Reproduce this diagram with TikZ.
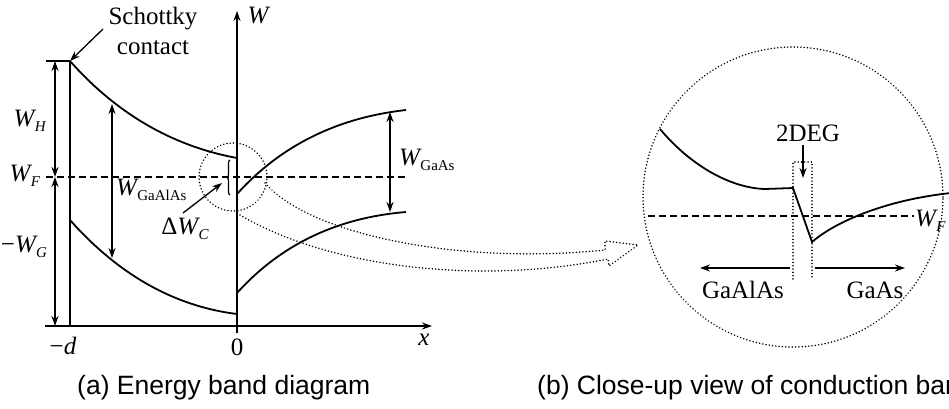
\documentclass[tikz,border=0pt]{standalone}
\usepackage{fontspec}
\setmainfont{Liberation Serif}
\newfontfamily\capfont{Liberation Sans}
\usetikzlibrary{arrows.meta,decorations.pathreplacing}
\newcommand{\Wsub}[1]{\textit{W}\kern-1.5pt\raisebox{-5pt}{\fontsize{15}{15}\selectfont #1}}
\begin{document}
\begin{tikzpicture}[x=1pt,y=-1pt,
  band/.style={line width=1.8pt},
  axis/.style={line width=1.7pt},
  tip/.style={-{Stealth[length=10pt,width=7pt]}},
  arr/.style={line width=1.5pt,-{Stealth[length=10pt,width=7pt]}},
  darr/.style={line width=1.5pt,{Stealth[length=10pt,width=7pt]}-{Stealth[length=10pt,width=7pt]}},
  fermi/.style={line width=1.5pt,dash pattern=on 7pt off 4pt},
  dots/.style={line width=1.6pt,line cap=round,dash pattern=on 0.1pt off 3.2pt},
  lbl/.style={font=\fontsize{25}{25}\selectfont,inner sep=0pt},
  captxt/.style={font=\capfont\fontsize{26.5}{26.5}\selectfont,inner sep=0pt,anchor=west}]
\useasboundingbox (0,0) rectangle (949,408);

% ---------- (a) energy band diagram ----------
\coordinate (Ptop) at (70,61);
\coordinate (Pbot) at (70,326);
\coordinate (Tleft) at (46,61);
\coordinate (Xl) at (45,326);
\coordinate (Xr) at (432,326);
\coordinate (Wb) at (237,333);
\coordinate (Wt) at (237,11);
\draw[axis] (Tleft) -- (Ptop);
\draw[axis] (Ptop) -- (Pbot);
\draw[axis,tip] (Xl) -- (Xr);
\draw[axis,tip] (Wb) -- (Wt);

% Fermi level
\coordinate (Fl) at (46,177);
\coordinate (Fr) at (405,177);
\draw[fermi] (Fl) -- (Fr);

% bands
\coordinate (cb1) at (70,61);
\coordinate (cb2) at (237,158);
\coordinate (vb1) at (70,220);
\coordinate (vb2) at (237,314);
\coordinate (gc1) at (237,194);
\coordinate (gc2) at (406,110);
\coordinate (gv1) at (237,293);
\coordinate (gv2) at (406,212);
\draw[band] (cb1) .. controls (116.7,113.7) and (172.3,146) .. (cb2);
\draw[band] (vb1) .. controls (116.7,272.7) and (172.3,306) .. (vb2);
\draw[band] (gc1) .. controls (281,145.3) and (337.3,117.7) .. (gc2);
\draw[band] (gv1) .. controls (281,244.3) and (337.3,217.7) .. (gv2);

% left scale arrows
\coordinate (s1) at (55,61);
\coordinate (s2) at (55,177);
\coordinate (s3) at (55,326);
\draw[darr] (s1) -- (s2);
\draw[darr] (s2) -- (s3);
\node[lbl] (WH) at (30,121) {\Wsub{\textit{H}}};
\node[lbl] (WF) at (25,176) {\Wsub{\textit{F}}};
\node[lbl] (WG) at (24,247) {−\Wsub{\textit{G}}};

% GaAlAs gap arrow
\coordinate (ga1) at (112,104);
\coordinate (ga2) at (112,258);
\draw[darr] (ga1) -- (ga2);
\node[lbl,anchor=west] (WGaAlAs) at (116,190) {\Wsub{GaAlAs}};

% GaAs gap arrow
\coordinate (gs1) at (390,112);
\coordinate (gs2) at (390,212);
\draw[darr] (gs1) -- (gs2);
\node[lbl,anchor=west] (WGaAs) at (399,160) {\Wsub{GaAs}};

% W axis label, ticks
\node[lbl] (Wlab) at (259,15) {\textit{W}};
\node[lbl] (dlab) at (63,346) {−\textit{d}};
\node[lbl] (zero) at (237,347) {0};
\node[lbl] (xlab) at (424,340) {\textit{x}};

% Schottky contact
\node[lbl,align=center,font=\fontsize{25}{30}\selectfont] (schottky) at (153,31) {Schottky\\contact};
\coordinate (schA) at (103,29);
\draw[arr,line width=1.3pt] (schA) -- (Ptop);

% Delta W_C
\draw[line width=1.2pt,decorate,decoration={brace,amplitude=3pt}] (230,195) -- (230,160);
\node[lbl] (dWC) at (185,229) {Δ\Wsub{\textit{C}}};
\coordinate (dA) at (183,213);
\coordinate (dB) at (222,183);
\draw[arr,line width=1.3pt] (dA) -- (dB);

% small dotted circle
\node[draw,dots,circle,minimum size=68pt,inner sep=0pt] (small) at (233,177) {};

% hollow dotted arrow to close-up
\coordinate (u0) at (265,183);
\coordinate (u1) at (605,250);
\coordinate (hb1) at (605,241);
\coordinate (htip) at (638,245);
\coordinate (hb2) at (609,266);
\coordinate (l1) at (608,259);
\coordinate (l0) at (240,215);
\draw[dots] (u0) .. controls (310,235) and (460,265) .. (u1) -- (hb1) -- (htip) -- (hb2) -- (l1)
  .. controls (480,285) and (330,268) .. (l0);

% ---------- (b) close-up ----------
\node[draw,dots,circle,minimum size=300pt,inner sep=0pt] (big) at (793,197) {};
\coordinate (c1) at (660,129);
\coordinate (c2) at (765,189);
\coordinate (c3) at (793,188);
\coordinate (c4) at (812,242);
\coordinate (c5) at (951,193);
\draw[band] (c1) .. controls (690,165) and (730,188) .. (c2) -- (c3) -- (c4)
  .. controls (835,222) and (885,200) .. (c5);
\coordinate (f1) at (648,216);
\coordinate (f2) at (914,216);
\draw[fermi] (f1) -- (f2);
\node[lbl,anchor=west] (WF2) at (915,221) {\Wsub{\textit{F}}};

% 2DEG box
\coordinate (r1) at (793,279);
\coordinate (r2) at (793,162);
\coordinate (r3) at (812,162);
\coordinate (r4) at (812,279);
\draw[dots,line width=1.4pt] (r1) -- (r2) -- (r3) -- (r4);
\node[lbl] (deg) at (808,133) {2DEG};
\coordinate (dg1) at (803,145);
\coordinate (dg2) at (803,178);
\draw[arr] (dg1) -- (dg2);

% material arrows
\coordinate (ma1) at (790,268);
\coordinate (ma2) at (700,268);
\coordinate (mb1) at (815,268);
\coordinate (mb2) at (905,268);
\draw[arr] (ma1) -- (ma2);
\draw[arr] (mb1) -- (mb2);
\node[lbl] (algaas) at (743,290) {GaAlAs};
\node[lbl] (gaas) at (875,290) {GaAs};

% captions
\node[captxt] (capa) at (77,388) {(a) Energy band diagram};
\node[captxt] (capb) at (537,388) {(b) Close-up view of conduction band};
\end{tikzpicture}
\end{document}
